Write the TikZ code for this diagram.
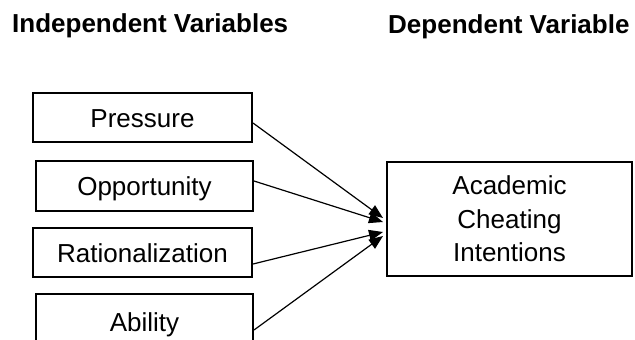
\documentclass[tikz,border=0pt]{standalone}
\usepackage{fontspec}
\setmainfont{Liberation Sans}
\usetikzlibrary{positioning,arrows.meta}

\begin{document}
\begin{tikzpicture}[x=1pt,y=-1pt,
    varbox/.style={draw,line width=2pt,inner sep=0pt,font=\fontsize{26}{30}\selectfont},
    onebox/.style={varbox,text height=19pt,text depth=0pt},
    heading/.style={anchor=base west,inner sep=0pt,font=\bfseries\fontsize{26}{30}\selectfont},
    link/.style={line width=1.2pt,-{Triangle[length=14pt,width=11pt]}}]
    \useasboundingbox (0,0) rectangle (635,340);
    \clip (0,0) rectangle (635,340);
    \node[heading] (indep) at (12,32) {Independent Variables};
    \node[heading] (dep) at (388,33) {Dependent Variable};
    \node[onebox,minimum width=219pt,minimum height=49pt] (pres) at (142.5,117.5) {Pressure};
    \node[onebox,minimum width=217pt,minimum height=50pt] (oppo) at (144.5,186) {Opportunity};
    \node[onebox,minimum width=219pt,minimum height=49pt] (ratio) at (142.5,252.5) {Rationalization};
    \node[onebox,minimum width=217pt,minimum height=56pt] (abil) at (144.5,322) {Ability};
    \node[varbox,minimum width=245pt,minimum height=114pt,align=center,font=\fontsize{26}{33.5}\selectfont] (intent) at (509.5,219) {Academic\\Cheating\\Intentions};
    % arrows into the dependent variable
    \draw[link] ([yshift=-5.5pt]pres.east) -- ([xshift=-3pt,yshift=1pt]intent.west);
    \draw[link] ([yshift=5pt]oppo.east) -- ([xshift=-3pt,yshift=-3pt]intent.west);
    \draw[link] ([yshift=-11.5pt]ratio.east) -- ([xshift=-3pt,yshift=-13pt]intent.west);
    \draw[link] ([yshift=-8pt]abil.east) -- ([xshift=-3pt,yshift=-17pt]intent.west);
\end{tikzpicture}
\end{document}
